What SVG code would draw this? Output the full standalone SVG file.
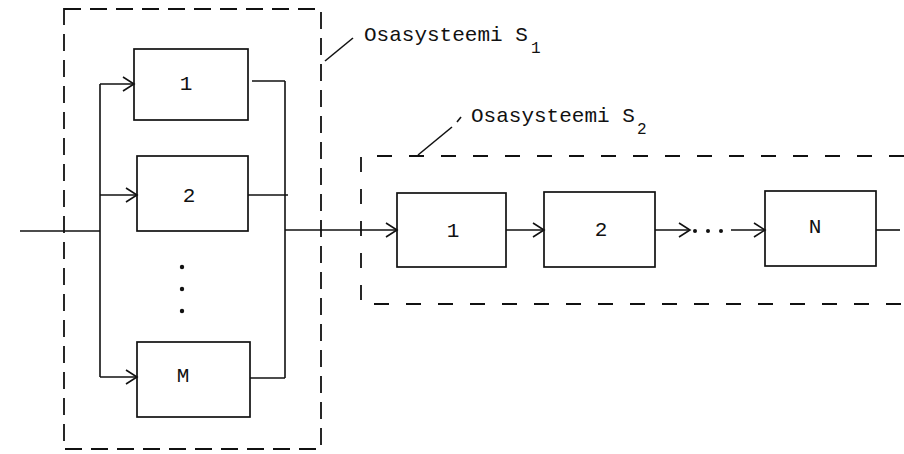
<svg xmlns="http://www.w3.org/2000/svg" width="904" height="454" viewBox="0 0 904 454">
<style>
.bg{fill:#ffffff}
.box{fill:none;stroke:#111;stroke-width:1.7}
.dash1{fill:none;stroke:#111;stroke-width:1.8;stroke-dasharray:17 9}
.dash2{fill:none;stroke:#111;stroke-width:1.8;stroke-dasharray:15 17}
.ln{fill:none;stroke:#111;stroke-width:1.6}
.lbl{font-family:"Liberation Mono","DejaVu Sans Mono",monospace;font-size:21px;fill:#111;text-anchor:middle}
.cap{font-family:"Liberation Mono","DejaVu Sans Mono",monospace;font-size:21px;fill:#111}
.sub{font-family:"Liberation Mono","DejaVu Sans Mono",monospace;font-size:16px;fill:#111}
.dot{fill:#111}
</style>
<defs>
<marker id="arr" markerWidth="14" markerHeight="18" refX="12" refY="9" orient="auto" markerUnits="userSpaceOnUse">
<path d="M1,2 L12,9 L1,16" fill="none" stroke="#111" stroke-width="1.6"/>
</marker>
</defs>
<rect class="bg" x="0" y="0" width="904" height="454"/>

<g id="subsystem-s1">
<rect class="dash1" x="64" y="9" width="257" height="440"/>
<path class="ln" d="M325,61 L353,38"/>
<text class="cap" x="364" y="41">Osasysteemi S</text>
<text class="sub" x="531" y="53">1</text>
</g>

<g id="subsystem-s2">
<path class="dash2" d="M904,156 H361 V304 H904"/>
<path class="ln" d="M418,155 L452,127"/>
<path class="ln" d="M461,117 L457,122"/>
<text class="cap" x="471" y="122">Osasysteemi S</text>
<text class="sub" x="637" y="134">2</text>
</g>

<g id="p1">
<rect class="box" x="134" y="49" width="114" height="71"/>
<text class="lbl" x="186" y="90">1</text>
</g>
<g id="p2">
<rect class="box" x="137" y="156" width="111" height="75"/>
<text class="lbl" x="189" y="202">2</text>
</g>
<g id="p-dots">
<circle class="dot" cx="182" cy="267" r="2.2"/>
<circle class="dot" cx="182" cy="289" r="2.2"/>
<circle class="dot" cx="182" cy="311" r="2.2"/>
</g>
<g id="pM">
<rect class="box" x="137" y="342" width="113" height="75"/>
<text class="lbl" x="183" y="382">M</text>
</g>

<g id="q1">
<rect class="box" x="397" y="193" width="109" height="74"/>
<text class="lbl" x="453" y="237">1</text>
</g>
<g id="q2">
<rect class="box" x="544" y="192" width="111" height="75"/>
<text class="lbl" x="601" y="236">2</text>
</g>
<g id="q-dots">
<circle class="dot" cx="695" cy="231" r="2"/>
<circle class="dot" cx="708" cy="231" r="2"/>
<circle class="dot" cx="721" cy="231" r="2"/>
</g>
<g id="qN">
<rect class="box" x="765" y="191" width="111" height="75"/>
<text class="lbl" x="815" y="233">N</text>
</g>

<g id="connectors">
<path class="ln" d="M20,231 H100"/>
<path class="ln" d="M100,84 V377"/>
<path class="ln" d="M100,84 H134" marker-end="url(#arr)"/>
<path class="ln" d="M100,195 H137" marker-end="url(#arr)"/>
<path class="ln" d="M100,377 H137" marker-end="url(#arr)"/>
<path class="ln" d="M252,81 H285"/>
<path class="ln" d="M248,195 H288"/>
<path class="ln" d="M250,378 H285"/>
<path class="ln" d="M285,81 V378"/>
<path class="ln" d="M285,230 H397" marker-end="url(#arr)"/>
<path class="ln" d="M506,230 H544" marker-end="url(#arr)"/>
<path class="ln" d="M655,230 H690" marker-end="url(#arr)"/>
<path class="ln" d="M731,230 H765" marker-end="url(#arr)"/>
<path class="ln" d="M876,230 H900"/>
</g>
</svg>
